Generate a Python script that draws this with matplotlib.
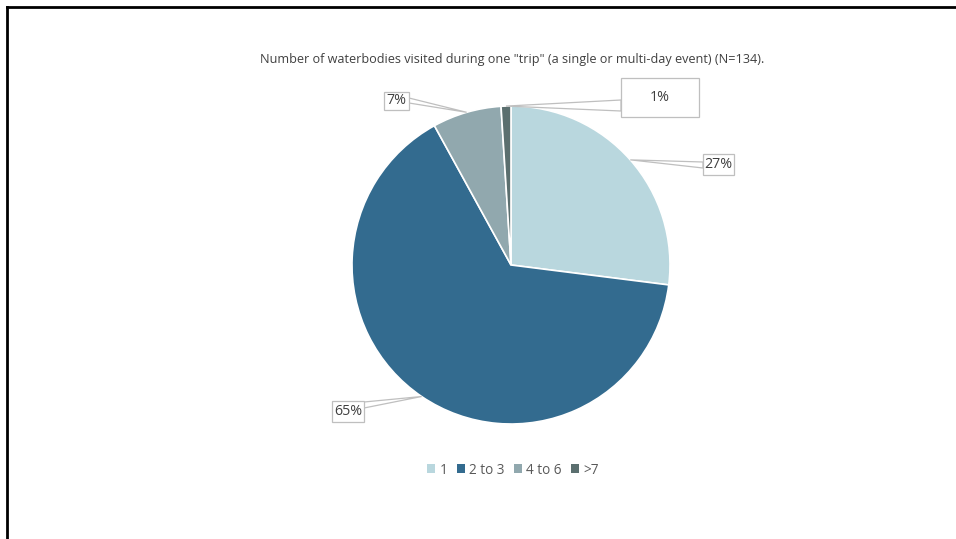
import matplotlib.pyplot as plt
from matplotlib.lines import Line2D
from matplotlib.patches import Patch, Rectangle, Polygon
import numpy as np

plt.rcParams["font.family"] = ["Open Sans", "DejaVu Sans"]

# -----------------------------
# Data
# -----------------------------
categories = ["1", "2 to 3", "4 to 6", ">7"]
shares = [27, 65, 7, 1]
labels = ["27%", "65%", "7%", "1%"]
colors = ["#B9D7DE", "#336B8F", "#91A8AE", "#5B6F6F"]

title = 'Number of waterbodies visited during one "trip" (a single or multi-day event) (N=134).'

# -----------------------------
# Figure, axes in pixel units
# -----------------------------
W, H = 956, 539
fig = plt.figure(figsize=(W / 100, H / 100), dpi=100)
ax = fig.add_axes([0, 0, 1, 1])

cx, cy, r = 511, H - 265, 159

wedges, _ = ax.pie(
    shares,
    colors=colors,
    startangle=90,
    counterclock=False,
    center=(cx, cy),
    radius=r,
    wedgeprops=dict(edgecolor="white", linewidth=1.2),
)
ax.set_xlim(0, W)
ax.set_ylim(0, H)
ax.set_aspect("equal")
ax.set_axis_off()

# label boxes: (left, top, width, height) in pixels, and leader target on box edge
boxes = [
    ((703, 154, 31, 21), [(703, 162), (703, 168)]),
    ((332, 401, 32, 21), [(364, 402), (364, 408)]),
    ((384, 92, 25, 18), [(409, 98), (409, 103)]),
    ((621, 78, 78, 39), [(621, 100), (621, 111)]),
]

box_ec = "#BFBFBF"
for w, lab, (rect, ends) in zip(wedges, labels, boxes):
    mid = np.deg2rad((w.theta1 + w.theta2) / 2)
    ax_pt = (cx + r * np.cos(mid), cy + r * np.sin(mid))
    x0, top, bw, bh = rect
    ax.add_patch(Rectangle((x0, H - top - bh), bw, bh, fc="white", ec=box_ec, lw=0.9, zorder=4))
    tri = [ax_pt, (ends[0][0], H - ends[0][1]), (ends[1][0], H - ends[1][1])]
    ax.add_patch(Polygon(tri, closed=True, fill=False, ec=box_ec, lw=0.9, zorder=3))
    ax.text(x0 + bw / 2, H - top - bh / 2, lab, ha="center", va="center",
            fontsize=10.3, color="#404040", zorder=5)

ax.text(512, H - 60, title, ha="center", va="center", fontsize=9.1, color="#404040")

# Legend
handles = [Patch(facecolor=c, edgecolor="none", label=n) for c, n in zip(colors, categories)]
fig.legend(handles=handles, loc="center", bbox_to_anchor=(513 / W, 1 - 470 / H), ncol=4,
           frameon=False, fontsize=9.8, handlelength=0.6, handleheight=0.6,
           handletextpad=0.3, columnspacing=0.7, labelcolor="#595959")

# Outer frame (top and left edges)
fig.add_artist(Line2D([7 / W, 1], [1 - 7 / H, 1 - 7 / H], color="black", lw=2))
fig.add_artist(Line2D([7 / W, 7 / W], [0, 1 - 7 / H], color="black", lw=2))

fig.savefig("out.png", dpi=100)
